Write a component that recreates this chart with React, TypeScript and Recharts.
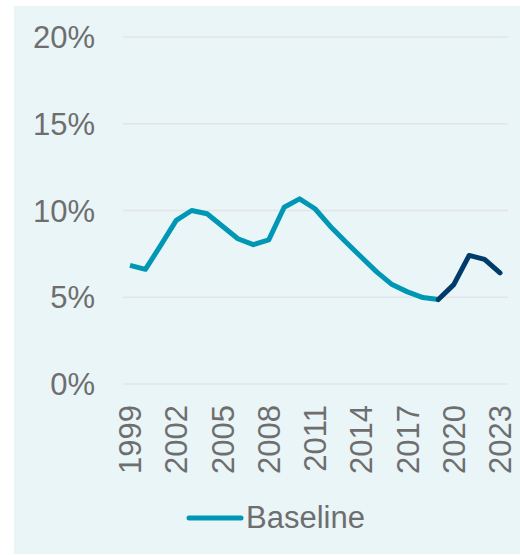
import React from "react";
import {
  LineChart,
  Line,
  XAxis,
  YAxis,
  CartesianGrid,
  Legend,
} from "recharts";

// Years on the x axis
const years = [
  1999, 2000, 2001, 2002, 2003, 2004, 2005, 2006, 2007, 2008, 2009, 2010,
  2011, 2012, 2013, 2014, 2015, 2016, 2017, 2018, 2019, 2020, 2021, 2022, 2023,
];

// Baseline history (%), up to 2019
const baseline = [
  6.84, 6.61, 8.0, 9.43, 10.0, 9.81, 9.09, 8.37, 8.03, 8.31, 10.19, 10.67,
  10.1, 9.08, 8.18, 7.32, 6.46, 5.73, 5.31, 4.98, 4.87,
];

// Projection (%), 2019 onwards
const projectionStart = 2019;
const projection = [4.87, 5.73, 7.41, 7.18, 6.4];

const yTicks = [0, 5, 10, 15, 20];
const xTicks = [1999, 2002, 2005, 2008, 2011, 2014, 2017, 2020, 2023];

const TEAL = "#0097b4";
const NAVY = "#003c6a";
const TEXT = "#6e6e6e";
const FONT = "'Liberation Sans', Arial, sans-serif";

const data = years.map((year, i) => {
  const p = year - projectionStart;
  return {
    year,
    baseline: i < baseline.length ? baseline[i] : null,
    projection: p >= 0 && p < projection.length ? projection[p] : null,
  };
});

function YearTick({ x, y, payload }: any) {
  return (
    <text
      x={x}
      y={y}
      dy="0.36em"
      transform={`rotate(-90, ${x}, ${y})`}
      textAnchor="end"
      fill={TEXT}
      fontSize={31}
      fontFamily={FONT}
    >
      {payload.value}
    </text>
  );
}

function LegendContent({ payload }: any) {
  const items = (payload || []).filter((p: any) => p.dataKey === "baseline");
  return (
    <div style={{ display: "flex", alignItems: "center" }}>
      {items.map((item: any) => (
        <div key={item.dataKey} style={{ display: "flex", alignItems: "center" }}>
          <svg width={58} height={10} style={{ marginRight: 2 }}>
            <line
              x1={3}
              y1={5}
              x2={55}
              y2={5}
              stroke={TEAL}
              strokeWidth={5}
              strokeLinecap="round"
            />
          </svg>
          <span style={{ color: TEXT, fontSize: 31, fontFamily: FONT }}>
            {item.value}
          </span>
        </div>
      ))}
    </div>
  );
}

export default function App() {
  return (
    <div
      style={{
        position: "absolute",
        left: 0,
        top: 0,
        width: 520,
        height: 555,
        background: "#ffffff",
      }}
    >
      <div
        style={{
          position: "absolute",
          left: 14,
          top: 6,
          width: 506,
          height: 548,
          background: "#eaf5f8",
        }}
      />
      <div style={{ position: "absolute", left: 0, top: 0 }}>
        <LineChart
          width={520}
          height={555}
          data={data}
          margin={{ top: 37, right: 12, bottom: 0, left: 0 }}
        >
          <CartesianGrid vertical={false} stroke="#e2e4e5" strokeWidth={1.3} />
          <XAxis
            dataKey="year"
            type="category"
            ticks={xTicks}
            interval={0}
            axisLine={false}
            tickLine={false}
            tickSize={0}
            tickMargin={21}
            height={171}
            padding={{ left: 7, right: 8 }}
            tick={<YearTick />}
          />
          <YAxis
            domain={[0, 20]}
            ticks={yTicks}
            width={123}
            axisLine={false}
            tickLine={false}
            tickSize={0}
            tickMargin={28}
            tickFormatter={(v) => `${v}%`}
            tick={{ fill: TEXT, fontSize: 31, fontFamily: FONT }}
          />
          <Legend
            verticalAlign="middle"
            align="center"
            layout="horizontal"
            content={<LegendContent />}
            wrapperStyle={{ left: 186, top: 500, width: 260, height: 40 }}
          />
          <Line
            dataKey="baseline"
            name="Baseline"
            stroke={TEAL}
            strokeWidth={5}
            dot={false}
            strokeLinejoin="round"
            isAnimationActive={false}
          />
          <Line
            dataKey="projection"
            name="Projection"
            stroke={NAVY}
            strokeWidth={5}
            strokeLinecap="round"
            strokeLinejoin="round"
            dot={false}
            legendType="none"
            isAnimationActive={false}
          />
        </LineChart>
      </div>
    </div>
  );
}
